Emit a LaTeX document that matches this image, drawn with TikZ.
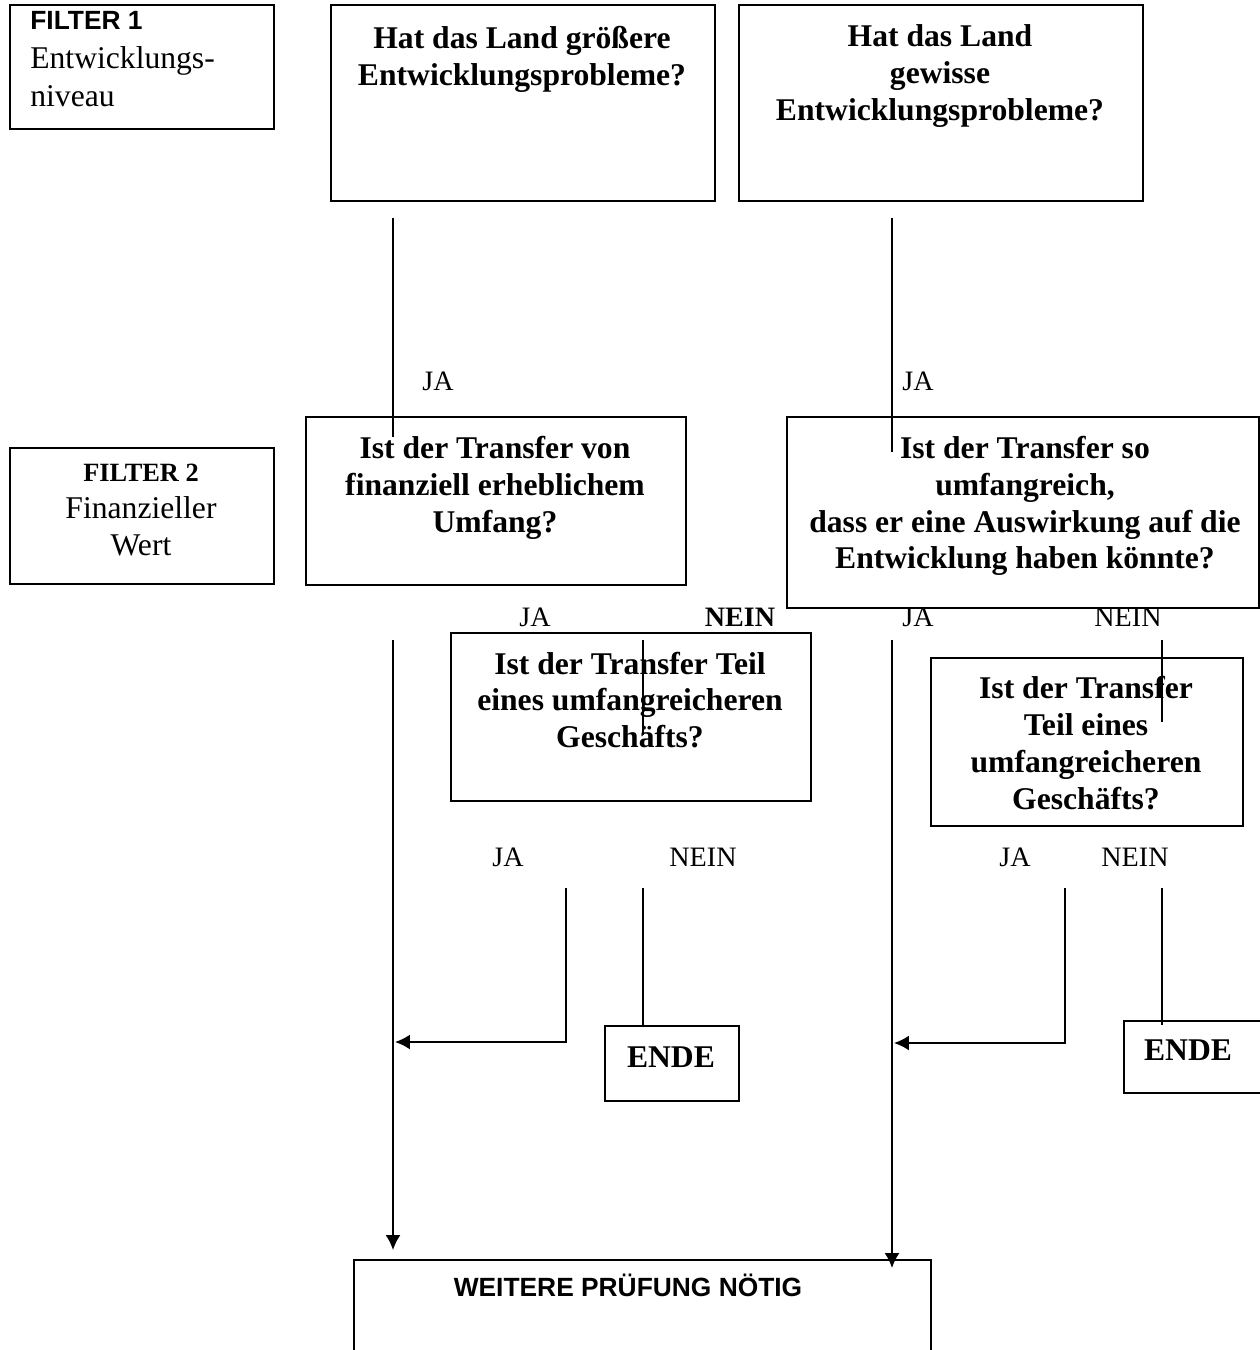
\documentclass[tikz,border=0pt]{standalone}
\usepackage{fontspec}
\setmainfont{Liberation Serif}
\newfontfamily\arialfont{Liberation Sans}
\usetikzlibrary{positioning,arrows.meta}

\begin{document}
\begin{tikzpicture}[x=0.02cm,y=-0.02cm,
		box/.style={rectangle,draw,line width=1pt,inner sep=0pt,anchor=north west},
		qtext/.style={align=center,font=\fontsize{18}{21}\selectfont\bfseries},
		ftext/.style={font=\fontsize{18}{21}\selectfont},
		atext/.style={font=\fontsize{15}{18}\selectfont\arialfont\bfseries},
		lbl/.style={font=\fontsize{16}{19}\selectfont},
		conn/.style={line width=1pt},
		arr/.style={-{Latex[length=8.5pt,width=8.5pt]}}]
	
		\useasboundingbox (0,0) rectangle (1260,1350);
		
		% boxes
		\node[box,minimum width=264*0.02cm,minimum height=124*0.02cm] (f1) at (9,4) {};
		\node[box,minimum width=384*0.02cm,minimum height=196*0.02cm] (q1) at (330,4) {};
		\node[box,minimum width=404*0.02cm,minimum height=196*0.02cm] (q2) at (738,4) {};
		\node[box,minimum width=264*0.02cm,minimum height=136*0.02cm] (f2) at (9,447) {};
		\node[box,minimum width=380*0.02cm,minimum height=168*0.02cm] (t1) at (305,416) {};
		\node[box,minimum width=472*0.02cm,minimum height=191*0.02cm] (t2) at (786,416) {};
		\node[box,minimum width=360*0.02cm,minimum height=168*0.02cm] (p1) at (450,632) {};
		\node[box,minimum width=312*0.02cm,minimum height=168*0.02cm] (p2) at (930,657) {};
		\node[box,minimum width=134*0.02cm,minimum height=75*0.02cm] (e1) at (604,1025) {};
		\node[box,minimum width=140*0.02cm,minimum height=72*0.02cm] (e2) at (1123,1020) {};
		\node[box,minimum width=577*0.02cm,minimum height=120*0.02cm] (w) at (353,1259) {};
		
		% texts
		\node[font=\fontsize{18}{22}\selectfont,align=left,anchor=north west,inner sep=0pt] (f1txt) at (30,11) {{\fontsize{15}{22}\selectfont\arialfont\bfseries FILTER 1}\\Entwicklungs-\\niveau};
		\node[qtext] (q1txt) at (522,59) {Hat das Land größere\\Entwicklungsprobleme?};
		\node[qtext] (q2txt) at (940,76) {Hat das Land\\gewisse\\Entwicklungsprobleme?};
		\node[ftext,align=center] (f2txt) at (141,510) {{\fontsize{15}{21}\selectfont\bfseries FILTER 2}\\Finanzieller\\Wert};
		\node[qtext] (t1txt) at (495,488) {Ist der Transfer von\\finanziell erheblichem\\Umfang?};
		\node[qtext] (t2txt) at (1025,506) {Ist der Transfer so\\umfangreich,\\dass er eine Auswirkung auf die\\Entwicklung haben könnte?};
		\node[qtext] (p1txt) at (630,700) {Ist der Transfer Teil\\eines umfangreicheren\\Geschäfts?};
		\node[qtext] (p2txt) at (1086,743) {Ist der Transfer\\Teil eines\\umfangreicheren\\Geschäfts?};
		\node[qtext] (e1txt) at (671,1057) {ENDE};
		\node[qtext] (e2txt) at (1188,1050) {ENDE};
		\node[atext] (wtxt) at (628,1285) {WEITERE PRÜFUNG NÖTIG};
		
		% labels
		\node[lbl] (ja1) at (438,381) {JA};
		\node[lbl] (ja2) at (918,381) {JA};
		\node[lbl] (ja3) at (535,617) {JA};
		\node[lbl,font=\fontsize{16}{19}\selectfont\bfseries] (nein3) at (740,617) {NEIN};
		\node[lbl] (ja4) at (918,617) {JA};
		\node[lbl] (nein4) at (1128,617) {NEIN};
		\node[lbl] (ja5) at (508,857) {JA};
		\node[lbl] (nein5) at (703,857) {NEIN};
		\node[lbl] (ja6) at (1015,857) {JA};
		\node[lbl] (nein6) at (1135,857) {NEIN};
		
		% connector ends
		\coordinate (q1out) at (393,218);
		\coordinate (q1in) at (393,437);
		\coordinate (q2out) at (892,218);
		\coordinate (q2in) at (892,452);
		\coordinate (ja3out) at (393,640);
		\coordinate (win1) at (393,1250);
		\coordinate (nein3out) at (643,640);
		\coordinate (p1in) at (643,735);
		\coordinate (ja4out) at (892,640);
		\coordinate (win2) at (892,1268);
		\coordinate (nein4out) at (1162,640);
		\coordinate (p2in) at (1162,722);
		\coordinate (ja5out) at (566,888);
		\coordinate (join1) at (395,1042);
		\coordinate (nein5out) at (643,888);
		\coordinate (ja6out) at (1065,888);
		\coordinate (join2) at (894,1043);
		\coordinate (nein6out) at (1162,888);
		\coordinate (e2in) at (1162,1025);
		
		% connectors
		\draw[conn] (q1out) -- (q1in);
		\draw[conn] (q2out) -- (q2in);
		\draw[conn,arr] (ja3out) -- (win1);
		\draw[conn] (nein3out) -- (p1in);
		\draw[conn,arr] (ja4out) -- (win2);
		\draw[conn] (nein4out) -- (p2in);
		\draw[conn,arr] (ja5out) |- (join1);
		\draw[conn] (nein5out) -- (e1.north -| nein5out);
		\draw[conn,arr] (ja6out) |- (join2);
		\draw[conn] (nein6out) -- (e2in);
		
	\end{tikzpicture}
\end{document}
